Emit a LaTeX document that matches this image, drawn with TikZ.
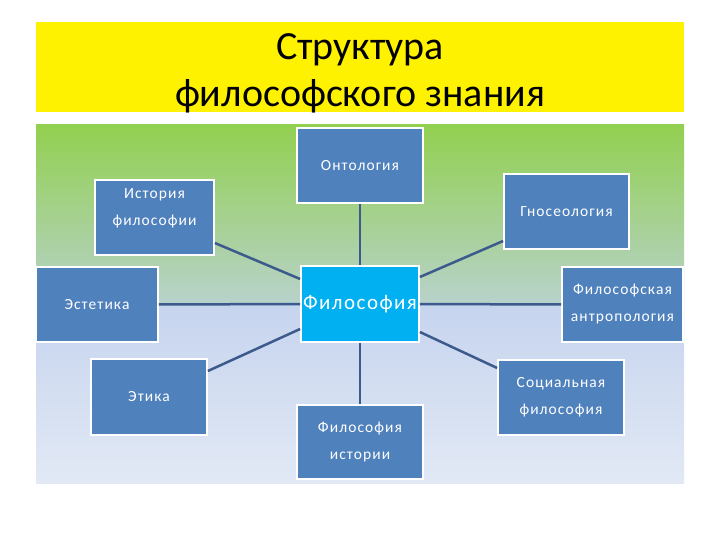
\documentclass[tikz,border=0pt]{standalone}
\usepackage{fontspec}
\setmainfont{Carlito}
\newfontfamily\boxfont[LetterSpace=7]{Carlito}
\usepackage{tikz}
\tikzset{>=stealth}

\definecolor{cellblue}{RGB}{79,129,189}
\definecolor{centerblue}{RGB}{0,176,240}
\definecolor{linkblue}{RGB}{60,90,140}
\definecolor{bggreen}{RGB}{146,208,80}
\definecolor{bgteal}{RGB}{184,210,204}
\definecolor{bgblue}{RGB}{198,212,238}
\definecolor{bglight}{RGB}{226,233,245}

\tikzset{
  celltext/.style={text=white, align=center, inner sep=0pt, font=\boxfont\fontsize{15.5}{27}\selectfont},
  cell/.style={celltext, draw=white, line width=1.8pt, fill=cellblue},
  link/.style={draw=linkblue, line width=2.5pt},
}

\begin{document}
\begin{tikzpicture}[x=1pt,y=-1pt]
    \useasboundingbox (0,0) rectangle (720,540);
    \fill[white] (0,0) rectangle (720,540);
    \fill[yellow] (36,22) rectangle (684,112);
    \shade[top color=bggreen, bottom color=bgteal] (36,125) rectangle (684,305);
    \shade[top color=bgblue, bottom color=bglight] (36,305) rectangle (684,483);
    \node[align=center, font=\fontsize{40}{47}\selectfont] (title) at (360,73) {Структура\\философского знания};
    \node[cell, minimum width=126pt, minimum height=75pt] (onto) at (360,165.5) {Онтология};
    \node[cell, minimum width=119pt, minimum height=75pt,
      label={[celltext, name=histtext, yshift=9pt]center:{История\\философии}}] (hist) at (154.5,217.5) {};
    \node[cell, minimum width=122pt, minimum height=75pt] (aest) at (97,304.5) {Эстетика};
    \node[cell, fill=centerblue, font=\boxfont\fontsize{21}{25}\selectfont, minimum width=118pt, minimum height=76pt] (phil) at (360,304) {Философия};
    \node[cell, minimum width=125pt, minimum height=75pt] (gnos) at (566.5,211.5) {Гносеология};
    \node[cell, minimum width=121pt, minimum height=75pt] (anthro) at (622.5,304.5) {Философская\\антропология};
    \node[cell, minimum width=116pt, minimum height=76pt] (ethics) at (149,397) {Этика};
    \node[cell, minimum width=126pt, minimum height=74pt] (philhist) at (360,442) {Философия\\истории};
    \node[cell, minimum width=126pt, minimum height=75pt] (social) at (561,397.5) {Социальная\\философия};
    \draw[link] (onto.south) -- (phil.north);
    \draw[link] ([yshift=-25.5pt]hist.east) -- ([yshift=25pt]phil.west);
    \draw[link] (aest.east) -- (phil.west);
    \draw[link] ([yshift=26pt]ethics.east) -- ([yshift=-25pt]phil.west);
    \draw[link] (phil.south) -- (philhist.north);
    \draw[link] ([yshift=27pt]phil.east) -- ([yshift=-29.5pt]gnos.west);
    \draw[link] (phil.east) -- (anthro.west);
    \draw[link] ([yshift=-28pt]phil.east) -- ([yshift=29.5pt]social.west);
\end{tikzpicture}
\end{document}
